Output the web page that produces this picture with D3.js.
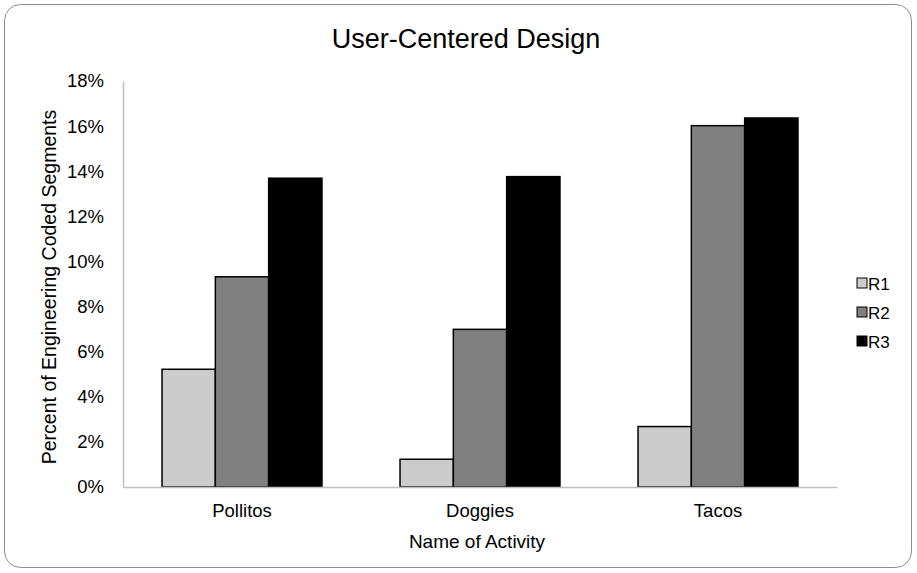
<!DOCTYPE html>
<html>
<head>
<meta charset="utf-8">
<script src="https://cdn.jsdelivr.net/npm/d3@7"></script>
<style>
  body { margin: 0; background: #fff; }
  svg { display: block; font-family: "Liberation Sans", Arial, sans-serif; }
</style>
</head>
<body>
<svg id="chart" width="917" height="573"></svg>
<script>
// Activities and share of engineering coded segments per round
const categories = ["Pollitos", "Doggies", "Tacos"];
const seriesNames = ["R1", "R2", "R3"];
const r1 = [0.0522, 0.0123, 0.0268];
const r2 = [0.0932, 0.0699, 0.1602];
const r3 = [0.1369, 0.1376, 0.1636];
const yTicks = [0, 0.02, 0.04, 0.06, 0.08, 0.10, 0.12, 0.14, 0.16, 0.18];
const fills = ["#cccccc", "#808080", "#000000"];

const values = [r1, r2, r3];
const svg = d3.select("#chart");
const FONT = "Liberation Sans, Arial, sans-serif";

// Outer frame
svg.append("rect")
  .attr("x", 4.5).attr("y", 4.5)
  .attr("width", 907).attr("height", 563)
  .attr("rx", 16).attr("ry", 16)
  .attr("fill", "#fff")
  .attr("stroke", "#8c8c8c").attr("stroke-width", 1);

const plot = { left: 123, right: 837, top: 81, bottom: 487 };

const x0 = d3.scaleBand().domain(categories).range([plot.left, plot.right]).padding(0);
const groupWidth = x0.bandwidth() * 0.672;
const x1 = d3.scaleBand().domain(seriesNames).range([0, groupWidth]).padding(0);
const y = d3.scaleLinear().domain([0, 0.18]).range([plot.bottom, plot.top]);

// Title
svg.append("text")
  .attr("x", 466).attr("y", 48)
  .attr("text-anchor", "middle")
  .attr("font-size", 27)
  .attr("fill", "#000")
  .text("User-Centered Design");

// Y axis
const yAxis = svg.append("g")
  .attr("transform", `translate(${plot.left},0)`)
  .call(d3.axisLeft(y).tickValues(yTicks).tickFormat(d3.format(".0%")).tickSize(0).tickPadding(19));
yAxis.select(".domain").attr("stroke", "#bfbfbf").attr("stroke-width", 1.5);
yAxis.selectAll("text").attr("font-size", 18.5).attr("fill", "#000").attr("font-family", FONT);

// Bars
const groups = svg.append("g").selectAll("g")
  .data(categories)
  .join("g")
  .attr("transform", c => `translate(${x0(c) + (x0.bandwidth() - groupWidth) / 2},0)`);

groups.selectAll("rect")
  .data((c, i) => seriesNames.map((s, j) => ({ s, v: values[j][i], j })))
  .join("rect")
  .attr("x", d => x1(d.s))
  .attr("y", d => y(d.v))
  .attr("width", x1.bandwidth())
  .attr("height", d => y(0) - y(d.v))
  .attr("fill", d => fills[d.j])
  .attr("stroke", "#000")
  .attr("stroke-width", 1.5);

// X axis
const xAxis = svg.append("g")
  .attr("transform", `translate(0,${plot.bottom})`)
  .call(d3.axisBottom(x0).tickSize(0).tickPadding(17));
xAxis.select(".domain").attr("stroke", "#bfbfbf").attr("stroke-width", 1.5);
xAxis.selectAll("text").attr("font-size", 18.5).attr("fill", "#000").attr("font-family", FONT);

// Axis titles
svg.append("text")
  .attr("x", 477).attr("y", 548)
  .attr("text-anchor", "middle")
  .attr("font-size", 19)
  .text("Name of Activity");

svg.append("text")
  .attr("transform", `translate(56,${287}) rotate(-90)`)
  .attr("text-anchor", "middle")
  .attr("font-size", 19.5)
  .text("Percent of Engineering Coded Segments");

// Legend
const legend = svg.append("g").selectAll("g")
  .data(seriesNames)
  .join("g")
  .attr("transform", (d, i) => `translate(857,${283 + i * 29})`);
legend.append("rect")
  .attr("x", 0).attr("y", -5)
  .attr("width", 10).attr("height", 10)
  .attr("fill", (d, i) => fills[i])
  .attr("stroke", "#000").attr("stroke-width", 1);
legend.append("text")
  .attr("x", 11).attr("y", 6.5)
  .attr("font-size", 17)
  .text(d => d);
</script>
</body>
</html>
